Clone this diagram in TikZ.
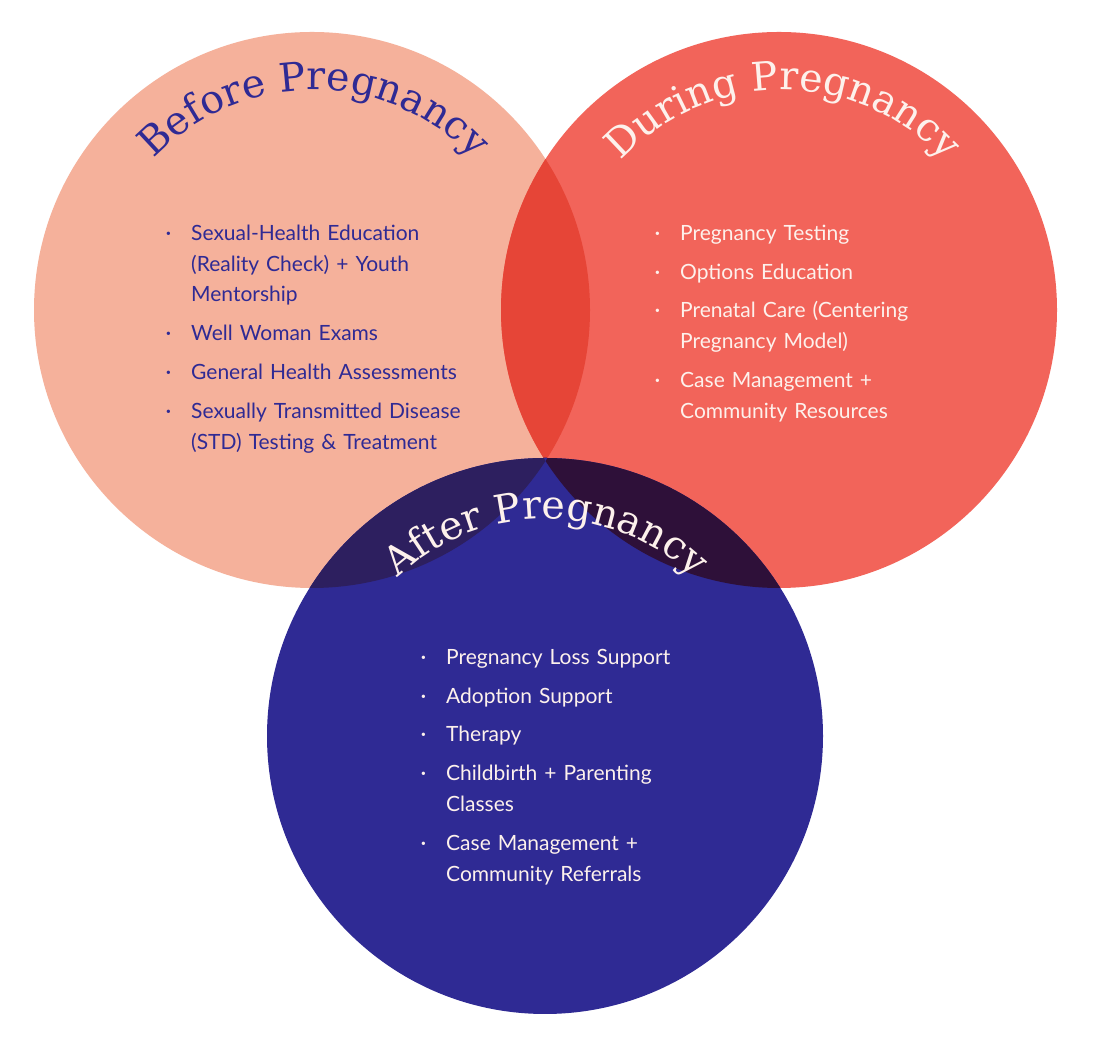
\documentclass[tikz,border=0pt]{standalone}
\usepackage{fontspec}
\setmainfont{Lato}
\newfontfamily\titlefont{DejaVu Serif}
\usetikzlibrary{decorations.text}

\def\beforeradius{(312,752) circle (278pt)}
\def\duringradius{(779,752) circle (278pt)}
\def\afterradius{(545,326) circle (278pt)}
\definecolor{before area}{HTML}{F5B19B}
\definecolor{during area}{HTML}{F2645A}
\definecolor{after area}{HTML}{2F2A94}
\definecolor{before during}{HTML}{E64537}
\definecolor{before after}{HTML}{2D1F5F}
\definecolor{during after}{HTML}{2E1039}
\definecolor{ink navy}{HTML}{2F2A94}
\definecolor{ink light}{HTML}{FDF1EC}
\newcommand\dotmark{\llap{\raisebox{4.5pt}{\fontsize{9}{9}\selectfont\textbullet}\hspace{20pt}}}
\tikzset{
  item/.style={anchor=base west, text width=300pt, align=left, inner sep=0pt,
    font=\fontsize{21}{30.5}\selectfont},
  arc title/.style 2 args={decorate, decoration={text along path, text align=center,
    text color=#1, text={|\titlefont\fontsize{39.5}{39.5}\selectfont|#2}}}
}

\begin{document}
\begin{tikzpicture}[x=1pt,y=1pt]
  \useasboundingbox (0,0) rectangle (1098,1062);
  \fill[white] (0,0) rectangle (1098,1062);

  \fill[before area] \beforeradius;
  \fill[during area] \duringradius;
  \begin{scope}
    \clip \beforeradius;
    \fill[before during] \duringradius;
  \end{scope}

  \fill[after area] \afterradius;
  \begin{scope}
    \clip \afterradius;
    \fill[before after] \beforeradius;
    \fill[during after] \duringradius;
    \clip \beforeradius;
    \fill[after area] \duringradius;
  \end{scope}

  % titles
  \path[arc title={ink navy}{Before Pregnancy}] (314,752) ++(150:220pt) arc[start angle=150, end angle=30, radius=220pt];
  \path[arc title={ink light}{During Pregnancy}] (783,752) ++(150:220pt) arc[start angle=150, end angle=30, radius=220pt];
  \path[arc title={ink light}{After Pregnancy}] (546,326) ++(150:217pt) arc[start angle=150, end angle=30, radius=217pt];

  % before
  \node[item, text=ink navy] (before1) at (191,821) {\dotmark Sexual-Health Education\\(Reality Check) + Youth\\Mentorship};
  \node[item, text=ink navy] (before2) at (191,721) {\dotmark Well Woman Exams};
  \node[item, text=ink navy] (before3) at (191,682) {\dotmark General Health Assessments};
  \node[item, text=ink navy] (before4) at (191,643) {\dotmark Sexually Transmitted Disease\\(STD) Testing \& Treatment};

  % during
  \node[item, text=ink light] (during1) at (680,821) {\dotmark Pregnancy Testing};
  \node[item, text=ink light] (during2) at (680,782) {\dotmark Options Education};
  \node[item, text=ink light] (during3) at (680,744) {\dotmark Prenatal Care (Centering\\Pregnancy Model)};
  \node[item, text=ink light] (during4) at (680,674) {\dotmark Case Management +\\Community Resources};

  % after
  \node[item, text=ink light] (after1) at (446,397) {\dotmark Pregnancy Loss Support};
  \node[item, text=ink light] (after2) at (446,358) {\dotmark Adoption Support};
  \node[item, text=ink light] (after3) at (446,320) {\dotmark Therapy};
  \node[item, text=ink light] (after4) at (446,281) {\dotmark Childbirth + Parenting\\Classes};
  \node[item, text=ink light] (after5) at (446,211) {\dotmark Case Management +\\Community Referrals};
\end{tikzpicture}
\end{document}
